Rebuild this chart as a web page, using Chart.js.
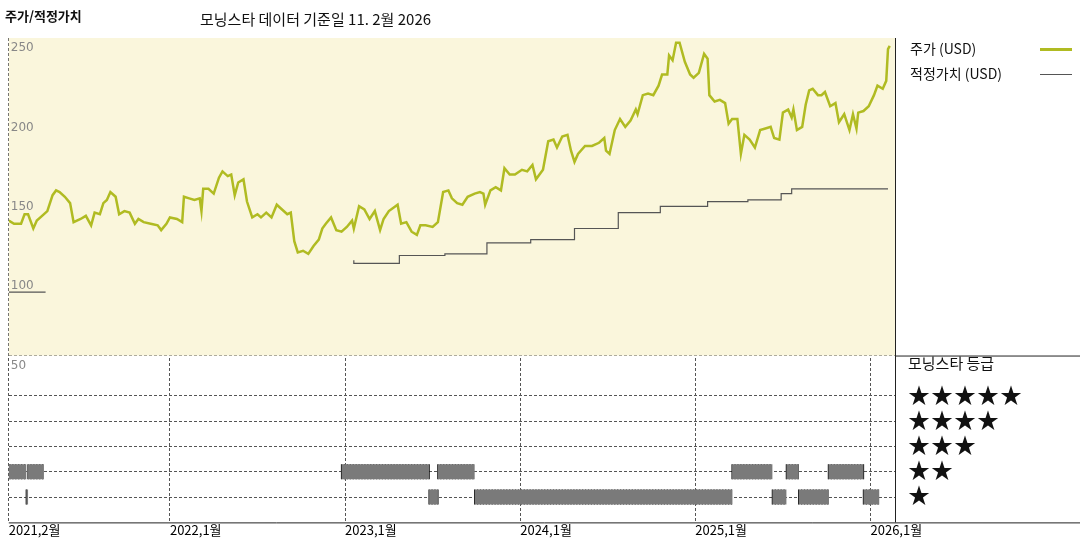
<!DOCTYPE html>
<html>
<head>
<meta charset="utf-8">
<script src="https://cdn.jsdelivr.net/npm/chart.js@4.4.1/dist/chart.umd.min.js"></script>
<style>
  body { margin: 0; background: #fff; font-family: "Noto Sans CJK KR", sans-serif; }
  #wrap { position: relative; width: 1080px; height: 540px; }
  .t { position: absolute; color: #111; white-space: nowrap; }
  .lg { position: absolute; height: 0; }
</style>
</head>
<body>
<div id="wrap">
  <canvas id="chart" width="1080" height="540"></canvas>
  <div class="t" style="left:5px;top:6px;font-size:13px;font-weight:bold;">주가/적정가치</div>
  <div class="t" style="left:200px;top:8px;font-size:15px;">모닝스타 데이터 기준일 11. 2월 2026</div>
  <div class="t" style="left:910px;top:38px;font-size:14px;">주가 (USD)</div>
  <div class="lg" style="left:1040px;top:48px;width:32px;border-top:3px solid #b0bb22;"></div>
  <div class="t" style="left:910px;top:63px;font-size:14px;">적정가치 (USD)</div>
  <div class="lg" style="left:1040px;top:74px;width:32px;border-top:1px solid #555;"></div>
  <div class="t" style="left:908px;top:352px;font-size:15px;">모닝스타 등급</div>
  <div class="t" style="left:908px;top:377px;font-size:22px;letter-spacing:1px;">★★★★★</div>
  <div class="t" style="left:908px;top:402px;font-size:22px;letter-spacing:1px;">★★★★</div>
  <div class="t" style="left:908px;top:427px;font-size:22px;letter-spacing:1px;">★★★</div>
  <div class="t" style="left:908px;top:452px;font-size:22px;letter-spacing:1px;">★★</div>
  <div class="t" style="left:908px;top:477px;font-size:22px;letter-spacing:1px;">★</div>
</div>
<script>
// x values are decimal years
const priceX = [2021.08,2021.11,2021.15,2021.17,2021.19,2021.22,2021.24,2021.27,2021.30,2021.33,2021.35,2021.37,2021.40,2021.43,2021.45,2021.49,2021.52,2021.55,2021.57,2021.60,2021.62,2021.64,2021.66,2021.69,2021.71,2021.74,2021.77,2021.80,2021.82,2021.85,2021.89,2021.93,2021.95,2021.98,2022.00,2022.04,2022.07,2022.08,2022.11,2022.14,2022.17,2022.18,2022.19,2022.22,2022.25,2022.28,2022.30,2022.33,2022.35,2022.37,2022.39,2022.42,2022.44,2022.47,2022.50,2022.52,2022.55,2022.58,2022.61,2022.64,2022.67,2022.69,2022.71,2022.73,2022.76,2022.79,2022.82,2022.85,2022.87,2022.89,2022.92,2022.95,2022.98,2023.01,2023.04,2023.05,2023.08,2023.11,2023.14,2023.17,2023.20,2023.22,2023.25,2023.30,2023.32,2023.35,2023.38,2023.41,2023.43,2023.46,2023.50,2023.53,2023.56,2023.59,2023.61,2023.64,2023.67,2023.70,2023.74,2023.77,2023.79,2023.80,2023.83,2023.86,2023.89,2023.91,2023.94,2023.97,2024.01,2024.04,2024.07,2024.09,2024.13,2024.16,2024.19,2024.21,2024.24,2024.27,2024.29,2024.31,2024.33,2024.37,2024.41,2024.45,2024.48,2024.49,2024.51,2024.54,2024.57,2024.60,2024.63,2024.66,2024.67,2024.70,2024.73,2024.76,2024.79,2024.81,2024.84,2024.85,2024.87,2024.89,2024.91,2024.94,2024.97,2024.99,2025.02,2025.05,2025.07,2025.08,2025.11,2025.14,2025.17,2025.19,2025.21,2025.24,2025.26,2025.28,2025.31,2025.34,2025.37,2025.40,2025.43,2025.45,2025.48,2025.50,2025.53,2025.55,2025.56,2025.58,2025.61,2025.63,2025.65,2025.67,2025.70,2025.72,2025.74,2025.77,2025.80,2025.82,2025.85,2025.88,2025.90,2025.92,2025.93,2025.96,2025.99,2026.02,2026.04,2026.07,2026.09,2026.10,2026.11];
const priceY = [135,133,133,139,139,130,135,138,141,151,154,153,150,146,134,136,138,132,140,139,146,148,153,150,139,141,140,133,136,134,133,132,129,133,137,136,134,150,149,148,149,141,155,155,152,162,166,163,164,151,159,161,147,137,139,137,140,137,145,142,139,140,122,115,116,114,119,123,130,133,137,129,128,131,135,130,144,142,136,141,129,136,141,145,133,134,128,126,132,132,131,134,153,154,149,146,145,150,152,153,152,145,154,156,154,168,164,164,167,166,170,161,167,185,186,181,188,189,179,172,177,182,182,184,187,179,177,192,199,194,198,205,202,214,215,214,220,227,227,239,236,247,247,235,227,225,228,240,237,214,210,211,209,196,199,199,177,189,186,181,192,193,194,187,186,203,205,200,205,192,194,208,217,218,214,214,216,207,209,197,202,192,202,193,203,204,207,214,220,218,223,243,245];

const fairX = [2021.08,2021.29,2021.30,2023.05,2023.31,2023.57,2023.81,2024.06,2024.31,2024.56,2024.80,2025.07,2025.30,2025.49,2025.55,2025.80,2026.10];
const fairY = [90,90,null,110,108,113,114,121,123,130,140,144,147,148,152,155,155];

// rating periods: [start, end, stars]
const ratingPeriods = [
  [2021.07,2021.18,2],[2021.19,2021.28,2],[2021.18,2021.19,1],
  [2022.98,2023.48,2],[2023.48,2023.53,1],[2023.53,2023.74,2],
  [2023.74,2025.21,1],[2025.21,2025.44,2],[2025.44,2025.52,1],
  [2025.52,2025.59,2],[2025.59,2025.76,1],[2025.76,2025.96,2],
  [2025.96,2026.05,1]
];
const yearTicks = [2021.08,2022,2023,2024,2025,2026];
const yearLabels = ["2021,2월","2022,1월","2023,1월","2024,1월","2025,1월","2026,1월"];
const priceTicks = [50,100,150,200,250];

const bandData = [];
const tickData = [];
ratingPeriods.forEach(([s, e, r]) => {
  bandData.push({x: s, y: r}, {x: e, y: r}, {x: e, y: null});
  for (let t = s; t <= e + 1e-6; t += 1 / 60) tickData.push({x: t, y: r});
});

const panelPlugin = {
  id: "panels",
  beforeDatasetsDraw(chart) {
    const {ctx, chartArea: a, scales} = chart;
    const y = scales.y;
    ctx.save();
    ctx.fillStyle = "#faf6dc";
    ctx.fillRect(a.left, y.top, a.right - a.left, y.bottom - y.top);
    ctx.restore();
  },
  afterDraw(chart) {
    const {ctx, chartArea: a, scales} = chart;
    const y = scales.y;
    ctx.save();
    ctx.fillStyle = "#888";
    ctx.font = "12px 'DejaVu Sans', sans-serif";
    ctx.textBaseline = "top";
    priceTicks.forEach(v => ctx.fillText(String(v), a.left + 2, y.getPixelForValue(v) + 4));
    ctx.strokeStyle = "#222";
    ctx.lineWidth = 1;
    ctx.beginPath();
    ctx.moveTo(a.right + 0.5, a.top);
    ctx.lineTo(a.right + 0.5, a.bottom);
    ctx.moveTo(a.left, a.bottom + 0.5);
    ctx.lineTo(1080, a.bottom + 0.5);
    ctx.moveTo(a.right, y.bottom + 0.5);
    ctx.lineTo(1080, y.bottom + 0.5);
    ctx.stroke();
    ctx.restore();
  }
};

const dash = {display: true, color: "#555", lineWidth: 1, drawTicks: false};

new Chart(document.getElementById("chart"), {
  type: "scatter",
  data: {
    datasets: [
      {
        data: priceX.map((x, i) => ({x, y: priceY[i]})),
        showLine: true, borderColor: "#b0bb22", borderWidth: 2.5, pointRadius: 0,
        yAxisID: "y"
      },
      {
        data: fairX.map((x, i) => ({x, y: fairY[i]})),
        showLine: true, stepped: "after", borderColor: "#555", borderWidth: 1.2, pointRadius: 0,
        spanGaps: false, yAxisID: "y"
      },
      {
        data: bandData, showLine: true, borderColor: "#7a7a7a", borderWidth: 15,
        borderCapStyle: "butt", pointRadius: 0, spanGaps: false, yAxisID: "y2"
      },
      {
        data: tickData, pointStyle: "line", rotation: 90, pointRadius: 7.5,
        borderColor: "#000", borderWidth: 1.3, yAxisID: "y2"
      }
    ]
  },
  options: {
    responsive: false,
    animation: false,
    layout: {padding: {left: 4, right: 185, top: 38, bottom: 2}},
    plugins: {legend: {display: false}, tooltip: {enabled: false}},
    scales: {
      x: {
        type: "linear", min: 2021.08, max: 2026.14,
        afterBuildTicks: s => { s.ticks = yearTicks.map(v => ({value: v})); },
        ticks: {
          align: "start", padding: 0, color: "#000",
          font: {size: 13, family: "'Noto Sans CJK KR', sans-serif"},
          callback: (v) => yearLabels[yearTicks.indexOf(v)]
        },
        grid: dash, border: {display: false, dash: [3, 2]}
      },
      y2: {
        type: "linear", min: 0, max: 6.6, stack: "p", stackWeight: 165, offset: false,
        afterBuildTicks: s => { s.ticks = [1, 2, 3, 4, 5].map(v => ({value: v})); },
        ticks: {display: false}, grid: dash, border: {display: false, dash: [3, 2]}
      },
      y: {
        type: "linear", min: 50, max: 250, stack: "p", stackWeight: 314, offset: false,
        afterBuildTicks: s => { s.ticks = priceTicks.map(v => ({value: v})); },
        ticks: {display: false}, grid: dash, border: {display: false, dash: [3, 2]}
      }
    }
  },
  plugins: [panelPlugin]
});
</script>
</body>
</html>
